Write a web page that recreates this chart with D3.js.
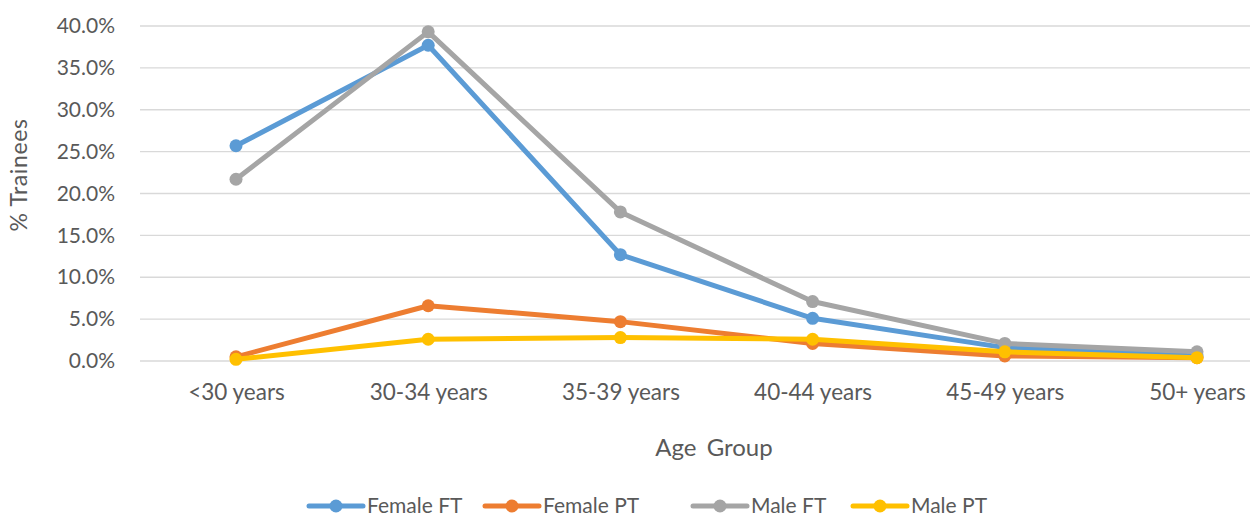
<!DOCTYPE html>
<html>
<head>
<meta charset="utf-8">
<script src="https://cdn.jsdelivr.net/npm/d3@7"></script>
<style>
  html, body { margin: 0; padding: 0; background: #fff; }
  svg { display: block; font-family: Lato, "Open Sans", sans-serif; }
</style>
</head>
<body>
<svg id="chart" width="1250" height="516"></svg>
<script>
// Share of trainees by age group (percent)
const ageGroups = ["<30 years", "30-34 years", "35-39 years", "40-44 years", "45-49 years", "50+ years"];
const femaleFT = [25.7, 37.7, 12.7, 5.1, 1.6, 0.6];
const femalePT = [0.5, 6.6, 4.7, 2.1, 0.6, 0.4];
const maleFT   = [21.7, 39.3, 17.8, 7.1, 2.1, 1.1];
const malePT   = [0.2, 2.6, 2.8, 2.6, 1.1, 0.4];
const yTicks   = [0, 5, 10, 15, 20, 25, 30, 35, 40];

const series = [
  { name: "Female FT", values: femaleFT, color: "#5B9BD5" },
  { name: "Female PT", values: femalePT, color: "#ED7D31" },
  { name: "Male FT",   values: maleFT,   color: "#A5A5A5" },
  { name: "Male PT",   values: malePT,   color: "#FFC000" }
];

const svg = d3.select("#chart");
const textColor = "#595959";

const x = d3.scalePoint().domain(ageGroups).range([236, 1197]);
const y = d3.scaleLinear().domain([0, 40]).range([361, 26]);

// Horizontal gridlines
svg.append("g")
  .selectAll("line")
  .data(yTicks)
  .join("line")
  .attr("x1", 140).attr("x2", 1294)
  .attr("y1", d => y(d)).attr("y2", d => y(d))
  .attr("stroke", "#d9d9d9").attr("stroke-width", 1.3);

// Y axis labels
const yAxis = svg.append("g")
  .attr("transform", "translate(140,0)")
  .call(d3.axisLeft(y).tickValues(yTicks).tickFormat(d => d.toFixed(1) + "%").tickSize(0).tickPadding(25));
yAxis.select(".domain").remove();
yAxis.selectAll("text").attr("fill", textColor).style("font-size", "21px").attr("font-family", "Lato, sans-serif");

// X axis labels
const xAxis = svg.append("g")
  .attr("transform", "translate(0,361)")
  .call(d3.axisBottom(x).tickSize(0).tickPadding(23));
xAxis.select(".domain").remove();
xAxis.selectAll("text").attr("fill", textColor).style("font-size", "22.5px").attr("font-family", "Lato, sans-serif");

// Axis titles
svg.append("text")
  .attr("transform", "translate(27,175) rotate(-90)")
  .attr("text-anchor", "middle")
  .attr("fill", textColor)
  .style("font-size", "23px")
  .style("letter-spacing", "0.6px")
  .text("% Trainees");

svg.append("text")
  .attr("x", 714).attr("y", 456)
  .attr("text-anchor", "middle")
  .attr("fill", textColor)
  .style("font-size", "24px")
  .style("word-spacing", "4px")
  .text("Age Group");

// Lines and markers
const line = d3.line()
  .x((d, i) => x(ageGroups[i]))
  .y(d => y(d));

const seriesG = svg.append("g")
  .selectAll("g")
  .data(series)
  .join("g");

seriesG.append("path")
  .attr("d", d => line(d.values))
  .attr("fill", "none")
  .attr("stroke", d => d.color)
  .attr("stroke-width", 5)
  .attr("stroke-linejoin", "round")
  .attr("stroke-linecap", "round");

seriesG.selectAll("circle")
  .data(d => d.values.map((v, i) => ({ v, i, color: d.color })))
  .join("circle")
  .attr("cx", d => x(ageGroups[d.i]))
  .attr("cy", d => y(d.v))
  .attr("r", 6.5)
  .attr("fill", d => d.color);

// Legend: marker centres, swatch line on each side, label to the right
const legendX = [336, 512, 720, 880];
const legend = svg.append("g")
  .selectAll("g")
  .data(series)
  .join("g")
  .attr("transform", (d, i) => `translate(${legendX[i]},506)`);

legend.append("line")
  .attr("x1", -27).attr("x2", 27)
  .attr("stroke", d => d.color)
  .attr("stroke-width", 5)
  .attr("stroke-linecap", "round");
legend.append("circle")
  .attr("r", 6.5)
  .attr("fill", d => d.color);
legend.append("text")
  .attr("x", 31).attr("y", 0)
  .attr("dy", "0.35em")
  .attr("fill", textColor)
  .style("font-size", "21px")
  .text(d => d.name);
</script>
</body>
</html>
